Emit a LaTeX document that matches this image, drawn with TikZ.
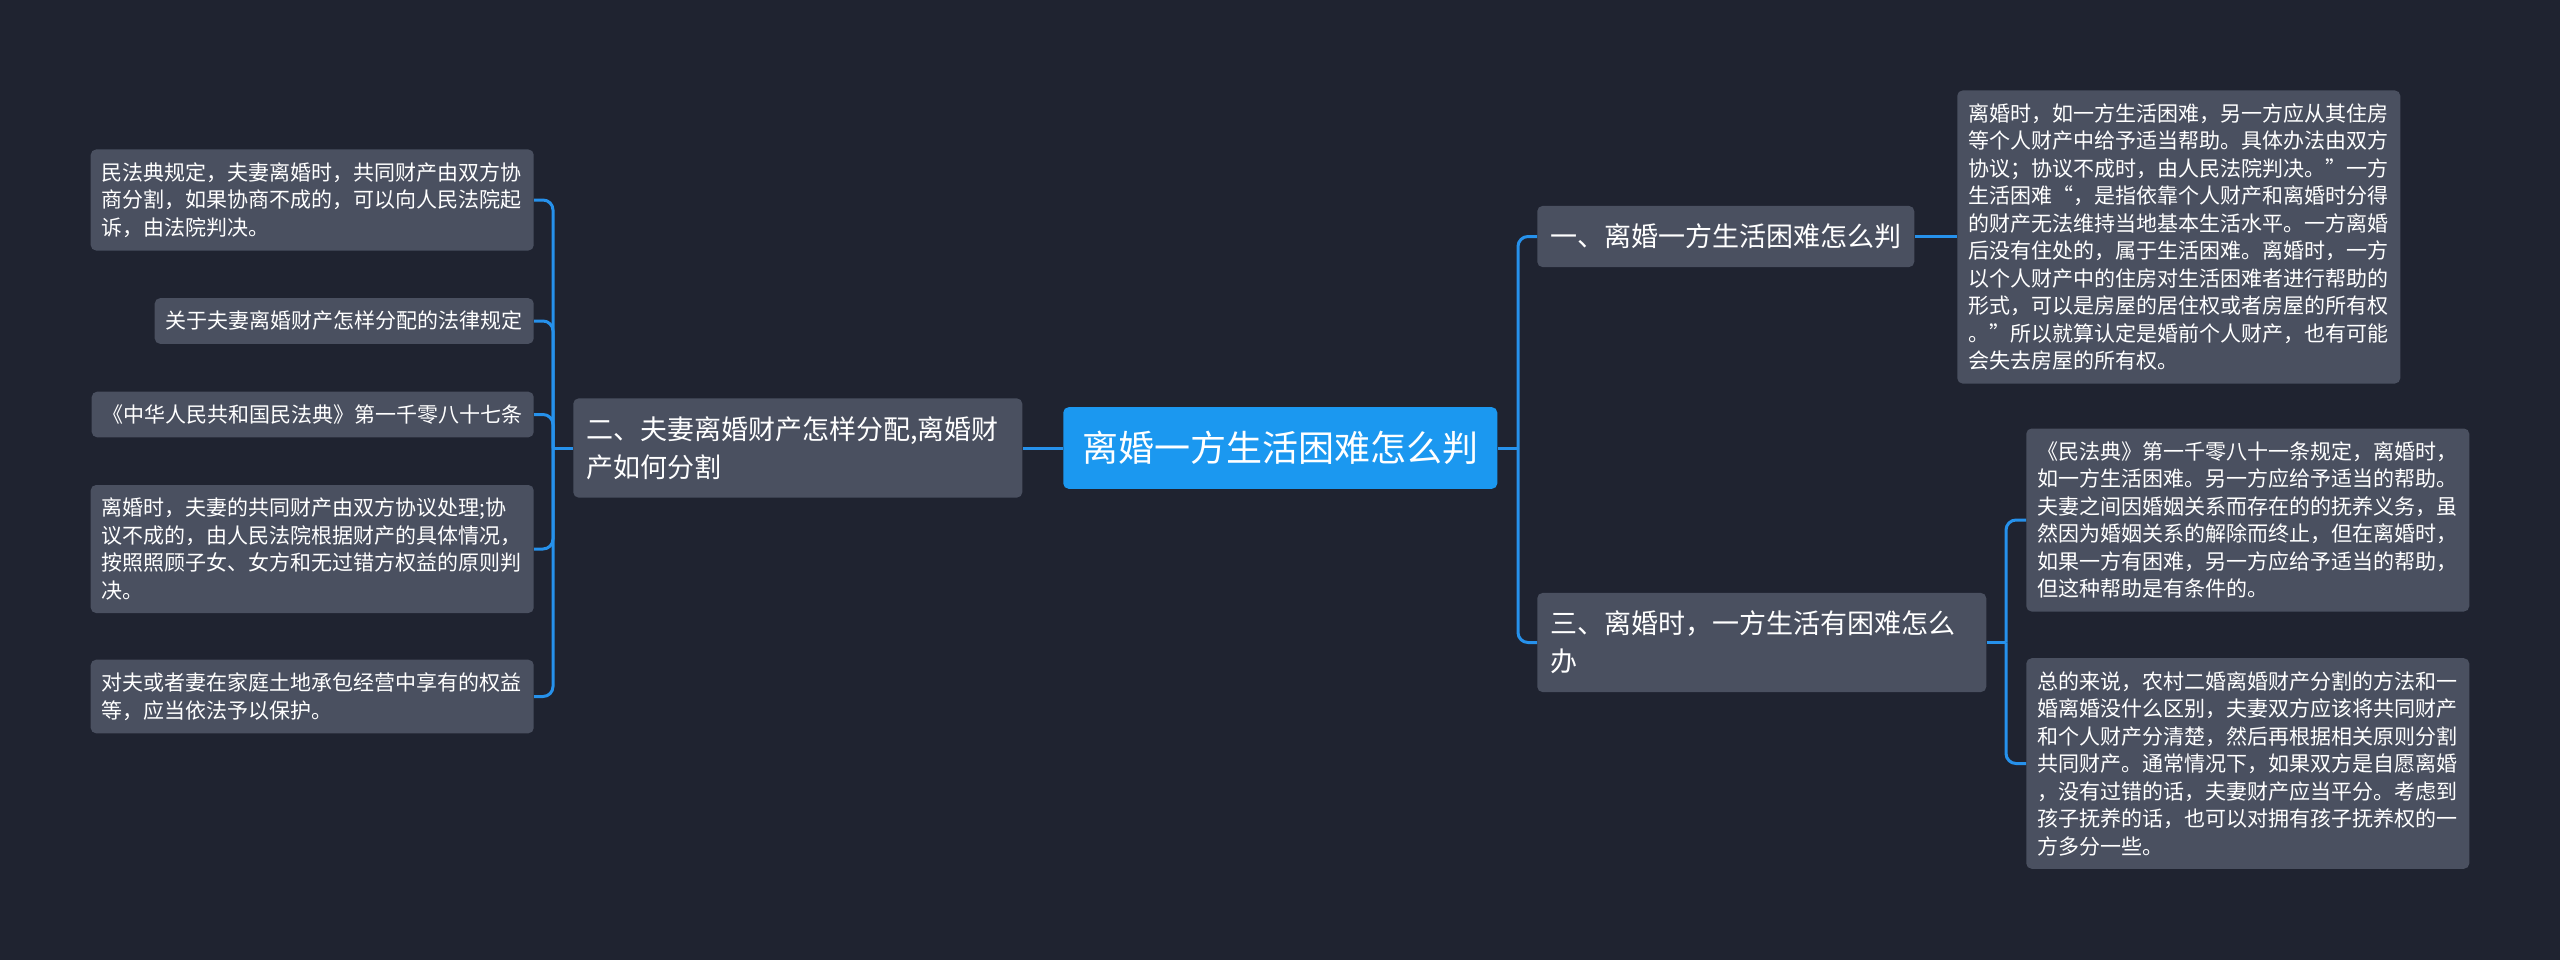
\documentclass[tikz,border=0pt]{standalone}
\usepackage{fontspec}
\setmainfont{Noto Sans CJK SC}
\definecolor{bgc}{RGB}{31,35,48}
\definecolor{boxc}{RGB}{74,80,96}
\definecolor{rootc}{RGB}{27,152,240}
\definecolor{linec}{RGB}{38,145,235}
\newcommand{\myopenq}{\makebox[1em][r]{“}}
\newcommand{\mycloseq}{\makebox[1em][l]{”}}
\tikzset{
  conn/.style={draw=linec, line width=2.25pt},
  rc/.style={rounded corners=7.5pt},
  leaf/.style={fill=boxc, text=white, rounded corners=4pt, inner xsep=8.25pt, inner ysep=9.75pt,
    align=left, font=\fontsize{15.75pt}{20.625pt}\selectfont},
  leafw/.style={leaf, text width=315.75pt},
  topic/.style={fill=boxc, text=white, rounded corners=4pt, inner xsep=9.75pt, inner ysep=13.5pt,
    align=left, font=\fontsize{20.25pt}{28.5pt}\selectfont},
  topicw/.style={topic, text width=317.25pt},
  rootbox/.style={fill=rootc, text=white, rounded corners=4pt, inner xsep=14.25pt, inner ysep=18pt,
    font=\fontsize{27pt}{32pt}\selectfont}
}
\begin{document}
\begin{tikzpicture}[x=0.75pt,y=-0.75pt]
\fill[bgc] (0,0) rectangle (2560,960);
\useasboundingbox (0,0) rectangle (2560,960);
% root and topics
\node[rootbox, anchor=west] (root) at (1063,448) {离婚一方生活困难怎么判};
\node[topicw, anchor=west] (n2) at (573,448) {二、夫妻离婚财产怎样分配,离婚财\\产如何分割};
\node[topic, anchor=west] (n1) at (1537,236.5) {一、离婚一方生活困难怎么判};
\node[topicw, anchor=west] (n3) at (1537,642.5) {三、离婚时，一方生活有困难怎么\\办};
% left leaves
\node[leafw, anchor=east] (l1) at (534,200) {民法典规定，夫妻离婚时，共同财产由双方协\\商分割，如果协商不成的，可以向人民法院起\\诉，由法院判决。};
\node[leaf, anchor=east] (l2) at (534,321) {关于夫妻离婚财产怎样分配的法律规定};
\node[leaf, anchor=east] (l3) at (534,414.5) {《中华人民共和国民法典》第一千零八十七条};
\node[leafw, anchor=east] (l4) at (534,549) {离婚时，夫妻的共同财产由双方协议处理;协\\议不成的，由人民法院根据财产的具体情况，\\按照照顾子女、女方和无过错方权益的原则判\\决。};
\node[leafw, anchor=east] (l5) at (534,696.5) {对夫或者妻在家庭土地承包经营中享有的权益\\等，应当依法予以保护。};
% right leaves
\node[leafw, anchor=west] (r1) at (1957,237) {离婚时，如一方生活困难，另一方应从其住房\\等个人财产中给予适当帮助。具体办法由双方\\协议；协议不成时，由人民法院判决。\mycloseq 一方\\生活困难\myopenq ，是指依靠个人财产和离婚时分得\\的财产无法维持当地基本生活水平。一方离婚\\后没有住处的，属于生活困难。离婚时，一方\\以个人财产中的住房对生活困难者进行帮助的\\形式，可以是房屋的居住权或者房屋的所有权\\。\mycloseq 所以就算认定是婚前个人财产，也有可能\\会失去房屋的所有权。};
\node[leafw, anchor=west] (r2) at (2026,520) {《民法典》第一千零八十一条规定，离婚时，\\如一方生活困难。另一方应给予适当的帮助。\\夫妻之间因婚姻关系而存在的的抚养义务，虽\\然因为婚姻关系的解除而终止，但在离婚时，\\如果一方有困难，另一方应给予适当的帮助，\\但这种帮助是有条件的。};
\node[leafw, anchor=west] (r3) at (2026,763.5) {总的来说，农村二婚离婚财产分割的方法和一\\婚离婚没什么区别，夫妻双方应该将共同财产\\和个人财产分清楚，然后再根据相关原则分割\\共同财产。通常情况下，如果双方是自愿离婚\\，没有过错的话，夫妻财产应当平分。考虑到\\孩子抚养的话，也可以对拥有孩子抚养权的一\\方多分一些。};
% junction points
\coordinate (jL) at (553,448);
\coordinate (jR) at (1518,448);
\coordinate (j3) at (2006,642.5);
% connectors
\draw[conn] (root.west) -- (n2.east);
\draw[conn] (n2.west) -- (jL);
\draw[conn,rc] (jL) |- (l1.east);
\draw[conn,rc] (jL) |- (l2.east);
\draw[conn,rc] (jL) |- (l3.east);
\draw[conn,rc] (jL) |- (l4.east);
\draw[conn,rc] (jL) |- (l5.east);
\draw[conn] (root.east) -- (jR);
\draw[conn,rc] (jR) |- (n1.west);
\draw[conn,rc] (jR) |- (n3.west);
\draw[conn] (n1.east) -- (n1.east -| r1.west);
\draw[conn] (n3.east) -- (j3);
\draw[conn,rc] (j3) |- (r2.west);
\draw[conn,rc] (j3) |- (r3.west);
\end{tikzpicture}
\end{document}
